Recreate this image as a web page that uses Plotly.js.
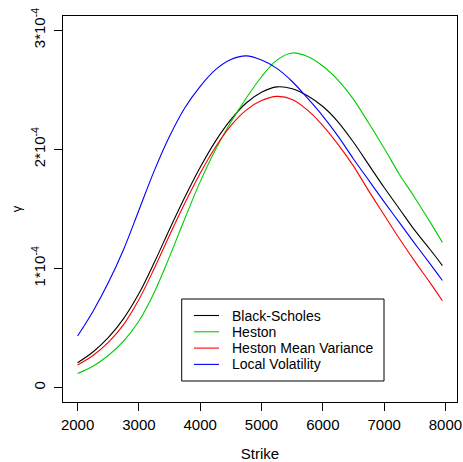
<!DOCTYPE html>
<html>
<head>
<meta charset="utf-8">
<script src="https://cdn.plot.ly/plotly-3.0.1.min.js"></script>
<style>html,body{margin:0;padding:0;background:#fff;}#chart{width:463px;height:462px;}</style>
</head>
<body>
<div id="chart"></div>
<script>
// Strike grid
const strikes = [2000,2250,2500,2750,3000,3250,3500,3750,4000,4250,4500,4750,5000,5250,5500,5750,6000,6250,6500,6750,7000,7250,7500,7750,7950];
// Gamma values, in units of 1e-4
const blackScholes = [0.21,0.30,0.42,0.58,0.79,1.05,1.33,1.60,1.85,2.07,2.25,2.39,2.48,2.525,2.51,2.45,2.36,2.23,2.06,1.87,1.68,1.50,1.32,1.16,1.025];
const heston = [0.12,0.18,0.27,0.39,0.56,0.80,1.10,1.42,1.73,2.00,2.23,2.43,2.61,2.75,2.81,2.78,2.70,2.58,2.42,2.22,2.01,1.79,1.595,1.39,1.22];
const hestonMeanVar = [0.19,0.27,0.38,0.53,0.74,1.00,1.28,1.55,1.80,2.02,2.20,2.33,2.41,2.445,2.42,2.33,2.20,2.04,1.86,1.65,1.45,1.25,1.06,0.88,0.73];
const localVol = [0.434,0.64,0.88,1.16,1.49,1.82,2.11,2.35,2.53,2.67,2.755,2.785,2.75,2.68,2.57,2.43,2.28,2.11,1.92,1.74,1.56,1.385,1.21,1.04,0.90];

const seriesNames = ["Black-Scholes","Heston","Heston Mean Variance","Local Volatility"];
const seriesColors = ["#000000","#00CD00","#FF0000","#0000FF"];
const seriesData = [blackScholes, heston, hestonMeanVar, localVol];

const xTicks = [2000,3000,4000,5000,6000,7000,8000];
const yTickVals = [0,1,2,3];
const yTickText = ["0","1*10<sup>-4</sup>","2*10<sup>-4</sup>","3*10<sup>-4</sup>"];

const FONT = "Liberation Sans, Arial, Helvetica, sans-serif";

const traces = seriesData.map((ys,i)=>({
  x: strikes, y: ys, type: "scatter", mode: "lines",
  name: seriesNames[i], showlegend: false,
  line: {color: seriesColors[i], width: 1.1, shape: "spline", smoothing: 1}
}));

// Legend drawn in pixel space relative to the figure (R-style legend box)
const W = 463, H = 462, ML = 63, MR = 6, MT = 16, MB = 60;
const pw = W - ML - MR, ph = H - MT - MB;
const px = v => (v - ML) / pw;          // figure px -> paper x
const py = v => (H - MB - v) / ph;      // figure px -> paper y
const legBox = {x0: 181.7, x1: 384, y0: 299, y1: 381};
const rowY0 = 315.5, rowStep = 16.3;
const shapes = [{
  type: "rect", xref: "paper", yref: "paper",
  x0: px(legBox.x0), x1: px(legBox.x1), y0: py(legBox.y1), y1: py(legBox.y0),
  line: {color: "#000", width: 1}, fillcolor: "rgba(255,255,255,1)", layer: "above"
}];
const annotations = [];
seriesNames.forEach((nm,i)=>{
  const yy = rowY0 + i*rowStep;
  shapes.push({type: "line", xref: "paper", yref: "paper",
    x0: px(194), x1: px(219), y0: py(yy), y1: py(yy),
    line: {color: seriesColors[i], width: 1.1}, layer: "above"});
  annotations.push({xref: "paper", yref: "paper", x: px(230), y: py(yy),
    xanchor: "left", yanchor: "middle", showarrow: false, text: nm,
    font: {family: FONT, size: 14, color: "#000"}});
});

const layout = {
  width: W, height: H,
  margin: {l:ML, r:MR, t:MT, b:MB, pad:0},
  paper_bgcolor: "#fff", plot_bgcolor: "#fff",
  font: {family: FONT, size: 15, color: "#000"},
  showlegend: false,
  shapes: shapes,
  annotations: annotations,
  xaxis: {
    range: [1762, 8188], tickvals: xTicks, ticktext: xTicks.map(String),
    ticks: "outside", ticklen: 8, tickwidth: 1, tickcolor: "#000",
    showline: true, mirror: true, linecolor: "#000", linewidth: 1,
    showgrid: false, zeroline: false,
    tickfont: {family: FONT, size: 15, color: "#000"},
    ticklabelstandoff: 1,
    title: {text: "Strike", font: {family: FONT, size: 15, color: "#000"}, standoff: 18}
  },
  yaxis: {
    range: [-0.12, 3.12], tickvals: yTickVals, ticktext: yTickText, tickangle: -90,
    ticks: "outside", ticklen: 8, tickwidth: 1, tickcolor: "#000",
    showline: true, mirror: true, linecolor: "#000", linewidth: 1,
    showgrid: false, zeroline: false,
    tickfont: {family: FONT, size: 15, color: "#000"},
    ticklabelstandoff: 3,
    title: {text: "γ", font: {family: FONT, size: 13, color: "#000"}, standoff: 4}
  }
};

Plotly.newPlot("chart", traces, layout, {staticPlot: true, displayModeBar: false});
</script>
</body>
</html>
